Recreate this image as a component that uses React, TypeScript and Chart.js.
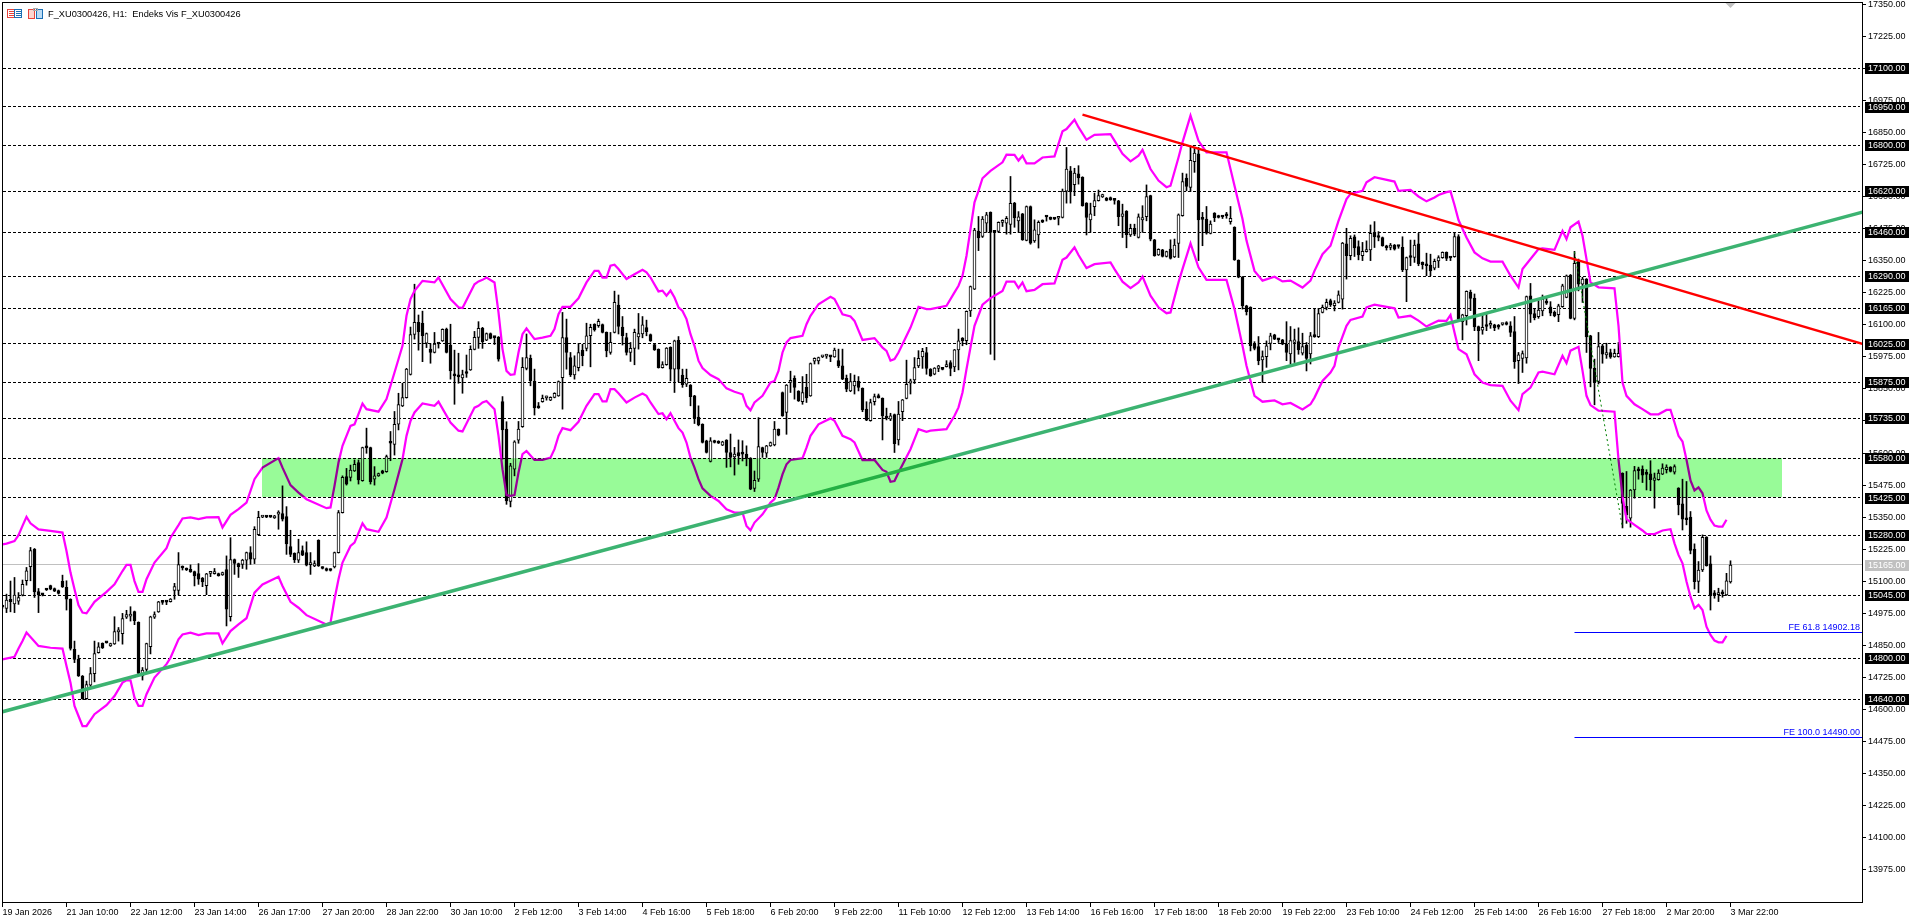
import React, { useEffect, useRef } from "react";
import { Chart, registerables } from "chart.js";

Chart.register(...registerables);

const opens = [
15000,14994,15030,15012,15023,15046,15102,15157,15225,15060,
15051,15069,15083,15072,15064,15100,15077,15030,14835,14796,
14731,14643,14695,14740,14822,14858,14861,14848,14856,14903,
14896,14960,14964,14982,14940,14731,14757,14845,14960,14981,
15020,15020,15021,15064,15064,15156,15150,15147,15138,15130,
15113,15083,15131,15130,15130,15125,15146,14962,15185,15169,
15166,15182,15212,15186,15282,15350,15351,15352,15347,15362,
15364,15352,15235,15209,15182,15220,15212,15165,15160,15260,
15155,15150,15147,15156,15212,15368,15508,15505,15530,15563,
15492,15621,15621,15498,15511,15531,15527,15641,15634,15712,
15784,15816,15906,16062,16109,16106,16028,16005,15992,16026,
16037,16083,16021,15906,15898,15893,15915,15924,16004,16051,
16086,16040,16066,16051,16052,15801,15693,15411,15537,15650,
15703,15930,15969,15879,15777,15800,15815,15806,15817,15823,
15894,16050,15972,15904,15933,16001,16008,16057,16102,16096,
16101,16070,15992,16070,16177,16091,16050,15992,16008,16053,
16064,16089,16062,16023,16004,15933,15944,16012,15927,16039,
15904,15868,15865,15823,15740,15712,15648,15567,15648,15639,
15631,15650,15602,15585,15602,15597,15596,15580,15462,15498,
15621,15599,15628,15632,15692,15836,15758,15875,15891,15841,
15800,15856,15823,15958,15959,15975,15978,15976,15975,15960,
15940,15891,15842,15862,15879,15852,15771,15726,15800,15822,
15813,15737,15732,15750,15651,15761,15813,15872,15885,15940,
15975,15992,15927,15907,15930,15927,15937,15953,15936,16002,
16048,16038,16154,16239,16465,16444,16496,16538,16461,16464,
16499,16496,16491,16574,16505,16532,16429,16561,16427,16450,
16507,16521,16518,16513,16515,16518,16621,16700,16646,16688,
16675,16574,16509,16560,16584,16598,16594,16596,16586,16583,
16522,16542,16450,16476,16440,16509,16521,16603,16431,16372,
16392,16366,16395,16364,16417,16525,16672,16635,16736,16766,
16512,16512,16456,16535,16525,16522,16526,16502,16480,16351,
16286,16174,16168,16024,16015,15963,15976,16027,16061,16042,
16041,16024,15986,16031,16034,15989,16021,15986,16062,16054,
16148,16168,16194,16174,16187,16200,16415,16369,16443,16405,
16369,16385,16392,16460,16446,16440,16408,16401,16411,16406,
16402,16314,16363,16362,16415,16343,16334,16333,16321,16349,
16361,16382,16360,16365,16444,16112,16135,16226,16204,16093,
16079,16094,16098,16100,16099,16101,16102,16096,16073,15960,
15969,15971,16213,16144,16131,16154,16192,16170,16148,16139,
16170,16207,16294,16125,16346,16258,16278,16057,15930,15879,
16018,15982,15992,15975,15976,15521,15392,15346,15456,15532,
15537,15518,15519,15493,15496,15518,15535,15545,15525,15463,
15402,15345,15350,15226,15100,15144,15272,15168,15048,15048,
15052,15047,15098];

const highs = [
15003,15050,15101,15115,15056,15105,15154,15232,15228,15072,
15052,15071,15085,15074,15066,15124,15102,15032,14867,14812,
14733,14711,14764,14867,14861,14860,14863,14859,14962,14920,
14975,14987,15001,14984,14942,14764,14859,14964,14981,15022,
15022,15021,15033,15092,15212,15160,15152,15164,15140,15169,
15115,15131,15134,15150,15132,15136,15199,15270,15187,15171,
15186,15214,15235,15313,15373,15353,15353,15353,15357,15375,
15472,15391,15299,15211,15264,15238,15254,15212,15180,15262,
15157,15152,15149,15214,15376,15511,15540,15553,15573,15573,
15623,15697,15623,15547,15522,15533,15592,15684,15762,15833,
15872,15930,16091,16258,16138,16153,16068,16027,16070,16028,
16084,16087,16102,16001,15989,15923,15982,16018,16074,16112,
16090,16068,16068,16053,16054,15820,15722,15560,15648,15723,
15972,16064,15982,15927,15797,15826,15822,15819,15835,15881,
16148,16122,15992,15979,16027,16024,16106,16102,16104,16122,
16103,16072,16070,16231,16216,16132,16067,16031,16083,16144,
16132,16118,16064,16025,16006,15956,16011,16014,16040,16054,
15927,15927,15867,15825,15784,15714,15650,15660,15650,15648,
15646,15652,15674,15622,15651,15648,15628,15582,15530,15738,
15623,15630,15643,15723,15694,15838,15867,15919,15901,15843,
15898,15907,15951,15971,15974,15978,15985,15978,16009,16005,
16005,15904,15910,15904,15898,15854,15800,15810,15830,15830,
15815,15775,15755,15752,15801,15809,15962,15888,15972,15999,
16008,16012,15929,15933,15942,15929,15960,15960,16004,16083,
16050,16154,16251,16476,16522,16522,16538,16540,16466,16501,
16509,16522,16678,16577,16541,16534,16563,16563,16509,16505,
16509,16523,16520,16514,16520,16629,16791,16717,16710,16720,
16677,16576,16574,16613,16625,16609,16596,16598,16588,16585,
16570,16545,16492,16492,16532,16564,16645,16605,16433,16396,
16394,16387,16431,16434,16532,16691,16688,16794,16791,16791,
16538,16561,16505,16537,16527,16524,16538,16561,16482,16353,
16288,16176,16170,16034,16054,15998,16037,16067,16063,16047,
16043,16112,16093,16083,16088,16067,16031,16070,16161,16164,
16177,16200,16200,16194,16232,16421,16476,16447,16450,16427,
16421,16427,16489,16502,16463,16442,16410,16417,16413,16408,
16443,16364,16430,16430,16456,16345,16379,16375,16356,16369,
16384,16384,16362,16457,16451,16141,16232,16235,16220,16095,
16142,16145,16115,16102,16101,16104,16112,16112,16132,15992,
15998,16212,16261,16161,16194,16216,16206,16190,16154,16180,
16258,16294,16296,16386,16356,16285,16280,16059,15966,16070,
16024,16028,16005,16005,16031,15523,15528,15458,15548,15545,
15550,15535,15570,15522,15535,15558,15554,15547,15554,15465,
15498,15489,15372,15246,15177,15281,15274,15199,15064,15073,
15066,15131,15180];

const lows = [
14995,14978,14981,14978,15010,15043,15085,15102,15037,14978,
15043,15064,15067,15060,15050,15076,14988,14832,14783,14729,
14640,14640,14690,14708,14820,14838,14859,14846,14854,14867,
14855,14955,14945,14931,14739,14715,14744,14817,14955,14979,
15010,15009,15019,15030,15047,15144,15142,15135,15082,15088,
15079,15048,15118,15128,15120,15123,14926,14945,15127,15115,
15150,15147,15166,15169,15280,15348,15348,15349,15345,15303,
15335,15205,15196,15173,15173,15200,15160,15127,15157,15158,
15148,15140,15140,15152,15210,15366,15475,15491,15528,15479,
15490,15599,15479,15475,15509,15519,15525,15570,15592,15690,
15781,15814,15904,16044,16001,15956,16011,15950,15990,16009,
16035,15990,15888,15790,15872,15833,15895,15922,16002,16008,
16008,16038,16045,16023,15958,15576,15400,15390,15511,15638,
15700,15924,15862,15748,15774,15798,15806,15804,15815,15821,
15771,15927,15898,15888,15920,15940,15998,15936,16075,16090,
16068,15975,15985,16068,16064,16021,15982,15957,15944,16005,
16049,16057,16035,16000,15931,15931,15942,15881,15836,15878,
15856,15859,15784,15715,15706,15639,15600,15565,15639,15637,
15629,15544,15546,15514,15556,15569,15550,15457,15450,15489,
15583,15583,15626,15628,15667,15743,15673,15836,15810,15801,
15790,15797,15821,15947,15947,15972,15969,15956,15973,15933,
15886,15839,15839,15830,15842,15761,15726,15724,15787,15814,
15651,15729,15726,15602,15631,15726,15811,15830,15871,15933,
15930,15907,15899,15905,15917,15924,15935,15901,15917,15924,
16018,16022,16132,16237,16389,16440,16460,15985,15963,16460,
16483,16453,16453,16480,16460,16429,16427,16414,16421,16399,
16498,16504,16509,16510,16489,16516,16574,16574,16603,16648,
16562,16450,16460,16525,16582,16596,16583,16585,16570,16486,
16440,16400,16444,16447,16438,16460,16505,16427,16367,16370,
16364,16364,16356,16362,16362,16523,16622,16619,16694,16350,
16408,16453,16454,16502,16516,16514,16515,16492,16351,16283,
16161,16138,15998,16002,15944,15875,15934,16002,16042,16031,
16022,15960,15947,15953,15985,15982,15920,15947,16051,16050,
16146,16158,16171,16154,16185,16161,16278,16353,16366,16353,
16350,16383,16350,16401,16427,16406,16391,16392,16391,16398,
16307,16190,16330,16343,16330,16317,16291,16291,16314,16323,
16359,16350,16350,16363,16120,16041,16099,16155,16077,15960,
16063,16077,16086,16077,16083,16098,16099,16054,15930,15871,
15914,15950,16109,16119,16125,16135,16179,16135,16131,16112,
16168,16205,16123,16119,16232,16187,15992,15858,15788,15869,
15950,15969,15969,15973,15974,15308,15326,15311,15424,15498,
15485,15456,15453,15385,15494,15516,15522,15526,15518,15359,
15300,15320,15207,15070,15056,15138,15159,14988,15034,15021,
15038,15045,15093];

const closes = [
15000,15027,15021,15046,15037,15088,15141,15220,15059,15047,
15047,15066,15069,15062,15053,15078,15030,14838,14796,14731,
14643,14697,14740,14818,14845,14840,14860,14857,14904,14904,
14955,14970,14966,14947,14741,14754,14857,14962,14970,15020,
15018,15019,15031,15079,15165,15152,15144,15137,15121,15108,
15098,15129,15132,15133,15122,15134,14991,15185,15170,15157,
15183,15212,15186,15303,15349,15351,15350,15350,15355,15364,
15342,15246,15205,15183,15212,15202,15163,15173,15169,15160,
15150,15142,15142,15212,15368,15505,15479,15534,15556,15495,
15621,15620,15488,15511,15520,15521,15586,15638,15712,15789,
15816,15927,16062,16109,16073,16057,16066,15992,16025,16025,
16082,15992,15920,15901,15897,15906,15910,16004,16051,16086,
16034,16066,16047,16050,15966,15690,15413,15550,15644,15693,
15934,15972,15882,15776,15776,15813,15819,15817,15833,15878,
16050,15992,15904,15940,15992,15979,16057,16090,16080,16113,
16070,15998,16031,16187,16093,16057,15992,16008,16070,16066,
16100,16073,16037,16002,15933,15945,16009,15927,16037,15927,
15866,15891,15820,15738,15710,15641,15602,15648,15641,15638,
15644,15602,15583,15596,15589,15596,15579,15459,15494,15625,
15602,15628,15641,15693,15670,15745,15865,15883,15856,15803,
15836,15815,15949,15969,15972,15976,15979,15975,16001,15940,
15888,15849,15878,15879,15856,15768,15728,15797,15820,15816,
15745,15736,15745,15636,15752,15807,15868,15881,15933,15969,
15996,15930,15901,15931,15940,15926,15945,15930,16002,16037,
16038,16152,16249,16469,16438,16512,16528,16460,16460,16499,
16500,16515,16573,16516,16521,16431,16561,16418,16470,16499,
16500,16520,16511,16512,16518,16621,16707,16619,16691,16672,
16564,16518,16532,16584,16603,16607,16585,16587,16585,16521,
16532,16451,16476,16453,16521,16518,16600,16434,16369,16394,
16366,16385,16359,16411,16528,16658,16639,16741,16769,16509,
16511,16457,16492,16517,16518,16520,16525,16515,16353,16285,
16174,16151,16018,16008,15960,15976,16018,16057,16044,16041,
16024,15992,16038,16041,16002,16015,15969,16057,16053,16144,
16168,16187,16177,16184,16217,16418,16369,16437,16399,16372,
16386,16392,16456,16442,16440,16408,16400,16411,16395,16405,
16314,16362,16362,16411,16337,16334,16330,16310,16347,16362,
16382,16359,16360,16444,16122,16139,16230,16203,16092,16077,
16090,16093,16099,16088,16091,16102,16101,16070,15956,15983,
15988,16210,16141,16128,16157,16200,16184,16145,16135,16174,
16252,16291,16125,16339,16258,16278,16053,15930,15875,16015,
15985,15992,15974,15989,15989,15404,15359,15456,15532,15531,
15514,15517,15496,15503,15522,15541,15545,15528,15547,15398,
15342,15340,15220,15099,15144,15271,15161,15043,15047,15056,
15051,15102,15163];

const upperIdx = [0,1,3,4,5,6,7,9,12,15,16,17,18,19,20,21,23,26,28,30,31,32,33,34,35,36,38,41,42,44,45,47,49,51,54,55,57,59,61,63,65,69,70,72,74,76,81,82,83,84,85,87,88,90,91,94,96,98,100,101,102,103,105,108,109,112,114,115,118,119,
120,121,123,124,125,126,127,128,129,130,131,133,135,137,138,139,140,142,144,146,148,149,150,151,152,153,154,156,158,160,161,162,164,165,166,167,168,169,170,171,172,173,174,175,177,179,181,183,185,186,187,188,190,192,193,194,195,196,197,200,201,202,204,207,208,210,212,213,215,218,220,221,222,223,224,227,229,231,232,236,238,239,
240,241,242,243,244,245,247,250,251,253,254,255,256,258,260,263,265,266,268,269,271,273,277,278,280,282,284,285,287,289,291,292,294,295,297,299,301,306,308,310,311,313,315,318,320,322,325,327,328,330,332,334,336,337,340,341,343,348,349,352,354,356,358,359,
361,362,363,364,366,368,370,372,375,377,379,380,382,384,385,388,390,391,392,394,395,396,397,399,403,404,405,406,408,410,412,414,416,417,418,419,420,421,422,423,424,425,426,427,428,429,430,431];
const upperBand = [15244,15247,15257,15280,15316,15351,15326,15302,15297,15290,15218,15134,15069,15007,14978,14975,15020,15059,15088,15140,15164,15164,15101,15059,15059,15108,15173,15229,15270,15319,15345,15349,15342,15349,15350,15310,15359,15381,15407,15498,15543,15580,15543,15475,15446,15420,15385,15388,15472,15563,15628,15706,15712,15793,15771,15761,15810,15914,16018,16135,16200,16232,16271,16265,16284,16200,16168,16165,16258,16269,
16275,16284,16265,16148,16005,15920,15905,15907,15992,16063,16086,16044,16050,16057,16083,16141,16170,16170,16203,16265,16310,16310,16284,16284,16330,16334,16317,16278,16297,16314,16304,16284,16230,16233,16213,16233,16206,16168,16154,16122,16063,16018,15960,15931,15904,15888,15852,15839,15829,15784,15767,15797,15823,15875,15881,15920,15992,16031,16048,16057,16102,16135,16180,16209,16200,16141,16132,16115,16041,16048,16011,15998,15960,15966,15992,16089,16170,16161,16161,16174,16226,16252,
16291,16369,16473,16577,16622,16671,16700,16733,16763,16762,16740,16759,16729,16729,16752,16756,16854,16863,16899,16870,16821,16840,16843,16818,16766,16737,16759,16782,16707,16662,16636,16642,16752,16811,16915,16817,16772,16772,16642,16512,16428,16310,16272,16287,16269,16272,16245,16272,16310,16375,16408,16505,16590,16610,16622,16655,16675,16658,16622,16626,16600,16581,16596,16606,
16617,16620,16567,16508,16440,16382,16359,16346,16346,16291,16245,16317,16356,16395,16398,16392,16466,16434,16480,16502,16447,16356,16265,16246,16242,16096,15875,15823,15790,15771,15751,15751,15768,15768,15719,15667,15645,15574,15493,15454,15466,15443,15376,15340,15317,15313,15313,15340];

const lowerIdx = [0,3,4,5,6,9,12,15,16,17,18,19,20,21,23,26,28,30,31,32,33,34,35,36,38,41,42,44,45,47,49,51,54,55,57,59,61,63,65,69,70,72,74,76,81,82,83,84,85,87,88,90,91,94,96,98,100,101,102,103,105,108,109,112,114,115,118,119,
120,121,123,124,125,126,127,128,129,130,131,133,135,137,138,139,140,142,144,146,148,149,150,151,152,153,154,156,158,160,161,162,164,165,166,167,168,169,170,171,172,173,174,175,177,179,181,183,185,186,187,188,190,192,193,194,195,196,197,200,201,202,204,207,208,210,212,213,215,218,220,221,222,223,224,227,229,231,232,236,238,239,
240,241,242,243,245,247,250,251,253,254,255,256,258,260,263,265,266,268,269,271,273,277,278,280,282,284,285,287,289,291,292,294,295,297,299,301,306,308,310,311,313,315,318,320,322,325,327,328,330,332,333,334,336,337,340,341,343,348,349,352,354,356,358,359,
361,362,363,364,366,368,370,372,375,377,379,380,382,384,385,388,390,391,392,394,395,396,397,399,403,404,405,406,408,410,411,413,415,417,418,419,420,421,422,423,424,425,426,427,428,429,430,431];
const lowerBand = [14796,14806,14838,14867,14900,14848,14841,14838,14770,14705,14614,14575,14536,14536,14582,14617,14653,14705,14714,14714,14647,14614,14614,14660,14725,14777,14802,14874,14893,14900,14890,14897,14897,14858,14906,14932,14956,15056,15088,15118,15082,15020,14997,14968,14932,14939,15030,15108,15173,15238,15251,15326,15303,15293,15348,15459,15576,15667,15725,15758,15793,15784,15800,15719,15687,15684,15777,15784,
15797,15803,15771,15667,15537,15436,15433,15436,15524,15596,15608,15573,15573,15582,15615,15667,15697,15689,15722,15784,15830,15830,15801,15801,15849,15849,15833,15797,15816,15832,15823,15797,15752,15755,15732,15755,15726,15697,15680,15641,15582,15543,15498,15462,15433,15413,15381,15368,15368,15316,15299,15329,15361,15407,15420,15465,15517,15556,15573,15580,15621,15667,15712,15735,15726,15667,15654,15641,15572,15573,15534,15527,15488,15491,15524,15615,15693,15683,15687,15693,15745,15778,
15836,15927,16012,16096,16178,16204,16232,16268,16268,16243,16265,16231,16236,16258,16261,16353,16362,16402,16372,16321,16336,16343,16317,16268,16243,16265,16288,16213,16168,16145,16148,16265,16317,16417,16324,16275,16275,16161,16018,15940,15823,15800,15805,15790,15795,15770,15790,15816,15881,15914,15940,16012,16096,16119,16132,16168,16178,16164,16128,16135,16116,16093,16109,16116,
16115,16138,16070,16005,15985,15907,15875,15865,15862,15804,15767,15830,15855,15914,15917,15907,15979,15950,15999,16014,15921,15823,15787,15765,15761,15574,15431,15342,15320,15298,15285,15284,15298,15303,15248,15203,15170,15099,15040,14995,15008,14988,14923,14891,14869,14862,14862,14887];

const levels = [17100,16950,16800,16620,16460,16290,16165,16025,15875,15735,15580,15425,15280,15045,14800,14640];
const lastPrice = 15165;
const yTicks = [17350,17225,17100,16975,16850,16725,16600,16475,16350,16225,16100,15975,15850,15725,15600,15475,15350,15225,15100,14975,14850,14725,14600,14475,14350,14225,14100,13975];
const xTickLabels = ["19 Jan 2026","21 Jan 10:00","22 Jan 12:00","23 Jan 14:00","26 Jan 17:00","27 Jan 20:00","28 Jan 22:00","30 Jan 10:00","2 Feb 12:00","3 Feb 14:00","4 Feb 16:00","5 Feb 18:00","6 Feb 20:00","9 Feb 22:00","11 Feb 10:00","12 Feb 12:00","13 Feb 14:00","16 Feb 16:00","17 Feb 18:00","18 Feb 20:00","19 Feb 22:00","23 Feb 10:00","24 Feb 12:00","25 Feb 14:00","26 Feb 16:00","27 Feb 18:00","2 Mar 20:00","3 Mar 22:00"];
const barsPerTick = 16;

const greenTrend = { idx: [-1, 465], price: [14587, 16539] };
const redTrend = { idx: [270, 465], price: [16919, 16025] };
const dottedTrend = { idx: [393, 405], price: [16384, 15308] };
const zone = { from: 64.875, to: 444.875, top: 15580, bottom: 15429 };
const feLevels = [
  { price: 14902.18, text: "FE 61.8 14902.18", fromIdx: 393 },
  { price: 14490.0, text: "FE 100.0 14490.00", fromIdx: 393 },
];
const titleText = "F_XU0300426, H1:  Endeks Vis F_XU0300426";

const FONT = '9px "Liberation Sans"';
const pairs = (xs: number[], ys: number[]) => xs.map((x, i) => ({ x, y: ys[i] }));

const overlay = {
  id: "overlay",
  beforeDatasetsDraw(chart: any) {
    const { ctx, chartArea: a, scales: { y } } = chart;
    ctx.save();
    ctx.lineWidth = 1;
    ctx.strokeStyle = "#c0c0c0";
    const gy = Math.floor(y.getPixelForValue(lastPrice)) + 0.5;
    ctx.beginPath(); ctx.moveTo(a.left, gy); ctx.lineTo(a.right, gy); ctx.stroke();
    ctx.strokeStyle = "#000";
    ctx.setLineDash([3, 2]);
    levels.forEach((l) => {
      const p = Math.floor(y.getPixelForValue(l)) + 0.5;
      ctx.beginPath(); ctx.moveTo(a.left + 1, p); ctx.lineTo(a.right - 2, p); ctx.stroke();
    });
    ctx.restore();
  },
  afterDatasetsDraw(chart: any) {
    const { ctx, chartArea: a, scales: { x, y } } = chart;
    ctx.save();
    // zone blends with what lies under it
    ctx.globalCompositeOperation = "multiply";
    ctx.fillStyle = "#98fb98";
    const zl = x.getPixelForValue(zone.from), zr = x.getPixelForValue(zone.to);
    const zt = y.getPixelForValue(zone.top), zb = y.getPixelForValue(zone.bottom);
    ctx.fillRect(zl, zt, zr - zl, zb - zt);
    ctx.globalCompositeOperation = "source-over";
    // Fibonacci expansion levels
    ctx.strokeStyle = "#0000ff";
    ctx.fillStyle = "#0000ff";
    ctx.lineWidth = 1;
    ctx.font = FONT;
    ctx.textAlign = "right";
    ctx.textBaseline = "alphabetic";
    feLevels.forEach((f) => {
      const p = Math.floor(y.getPixelForValue(f.price)) + 0.5;
      ctx.beginPath(); ctx.moveTo(x.getPixelForValue(f.fromIdx), p); ctx.lineTo(a.right, p); ctx.stroke();
      ctx.fillText(f.text, a.right - 2, p - 3);
    });
    ctx.restore();
  },
  afterDraw(chart: any) {
    const { ctx, chartArea: a, scales: { x, y } } = chart;
    ctx.save();
    ctx.strokeStyle = "#000";
    ctx.lineWidth = 1;
    ctx.strokeRect(a.left + 0.5, a.top + 0.5, a.right - a.left, a.bottom - a.top);
    ctx.font = FONT;
    ctx.textAlign = "left";
    ctx.textBaseline = "middle";
    const tag = (v: number, bg: string) => {
      const p = Math.round(y.getPixelForValue(v));
      ctx.fillStyle = bg;
      ctx.fillRect(a.right + 3, p - 5, 44, 11);
      ctx.fillStyle = "#fff";
      ctx.fillText(v.toFixed(2), a.right + 6, p + 0.5);
    };
    levels.forEach((l) => tag(l, "#000"));
    tag(lastPrice, "#c0c0c0");
    // title
    ctx.fillStyle = "#000";
    ctx.font = '9.25px "Liberation Sans"';
    ctx.fillText(titleText, 48, 14);
    // chart-window icons
    ctx.lineWidth = 1;
    ctx.strokeStyle = "#e8433a";
    ctx.strokeRect(7.5, 9.5, 7, 8);
    ctx.beginPath();
    [11.5, 13.5, 15.5].forEach((v) => { ctx.moveTo(9, v); ctx.lineTo(14, v); });
    ctx.stroke();
    ctx.strokeStyle = "#1a6fb5";
    ctx.strokeRect(14.5, 9.5, 7, 8);
    ctx.beginPath();
    [11.5, 13.5, 15.5].forEach((v) => { ctx.moveTo(16, v); ctx.lineTo(21, v); });
    ctx.stroke();
    ctx.fillStyle = "#fcd5cf";
    ctx.fillRect(29, 10, 5, 8);
    ctx.strokeStyle = "#e8433a";
    ctx.strokeRect(28.5, 9.5, 6, 9);
    ctx.fillStyle = "#bcdcf5";
    ctx.fillRect(37, 10, 5, 8);
    ctx.strokeStyle = "#1a6fb5";
    ctx.strokeRect(36.5, 9.5, 6, 9);
    ctx.strokeStyle = "#aaa";
    ctx.strokeRect(33.5, 8.5, 4, 2);
    // shift marker
    const m = x.getPixelForValue(opens.length - 1);
    ctx.fillStyle = "#c0c0c0";
    ctx.beginPath(); ctx.moveTo(m - 5, a.top + 1); ctx.lineTo(m + 5, a.top + 1); ctx.lineTo(m, a.top + 6); ctx.closePath(); ctx.fill();
    ctx.restore();
  },
};

export default function App() {
  const ref = useRef<HTMLCanvasElement>(null);
  useEffect(() => {
    document.body.style.margin = "0";
    const lineBase = { type: "line", pointRadius: 0, tension: 0, fill: false };
    const chart = new Chart(ref.current as HTMLCanvasElement, {
      type: "bar",
      data: {
        datasets: [
          {
            order: 6, grouped: false, barThickness: 1, maxBarThickness: 1, backgroundColor: "#000", borderWidth: 0,
            data: lows.map((l, i) => ({ x: i, y: [l, highs[i]] })),
          },
          {
            order: 5, grouped: false, barThickness: 3, maxBarThickness: 3, minBarLength: 2, borderColor: "#000", borderWidth: 1, borderSkipped: false,
            backgroundColor: opens.map((o, i) => (closes[i] > o ? "#fff" : "#000")),
            data: opens.map((o, i) => ({ x: i, y: [Math.min(o, closes[i]), Math.max(o, closes[i])] })),
          },
          { ...lineBase, order: 4, borderColor: "#ff00ff", borderWidth: 2.25, data: pairs(upperIdx, upperBand) },
          { ...lineBase, order: 4, borderColor: "#ff00ff", borderWidth: 2.25, data: pairs(lowerIdx, lowerBand) },
          { ...lineBase, order: 3, borderColor: "#008000", borderWidth: 1, borderDash: [2, 3], data: pairs(dottedTrend.idx, dottedTrend.price) },
          { ...lineBase, order: 2, borderColor: "#3cb371", borderWidth: 3.6, data: pairs(greenTrend.idx, greenTrend.price) },
          { ...lineBase, order: 1, borderColor: "#ff0000", borderWidth: 2.4, data: pairs(redTrend.idx, redTrend.price) },
        ] as any,
      },
      options: {
        animation: false,
        responsive: false,
        devicePixelRatio: 1,
        layout: { padding: { left: 2, top: 2, right: 0, bottom: 0 } },
        plugins: { legend: { display: false }, tooltip: { enabled: false }, title: { display: false } },
        scales: {
          x: {
            type: "linear", min: -0.125, max: 464.875, offset: false,
            afterBuildTicks: (s: any) => { s.ticks = xTickLabels.map((_, i) => ({ value: i * barsPerTick })); },
            afterFit: (s: any) => { s.height = 21; s.paddingLeft = 0; s.paddingRight = 0; },
            grid: { drawOnChartArea: false, tickLength: 5, tickColor: "#000", tickWidth: 1, offset: false },
            border: { display: false },
            ticks: {
              autoSkip: false, maxRotation: 0, minRotation: 0, align: "start", padding: 0,
              color: "#000", font: { family: "Liberation Sans", size: 9 },
              callback: (_v: any, i: number) => xTickLabels[i],
            },
          },
          y: {
            type: "linear", position: "right", min: 13850, max: 17358,
            afterBuildTicks: (s: any) => { s.ticks = yTicks.map((v) => ({ value: v })); },
            afterFit: (s: any) => { s.width = 58; s.paddingTop = 0; s.paddingBottom = 0; },
            grid: { drawOnChartArea: false, tickLength: 4, tickColor: "#000", tickWidth: 1 },
            border: { display: false },
            ticks: {
              autoSkip: false, padding: 2, color: "#000", font: { family: "Liberation Sans", size: 9 },
              callback: (v: any) => Number(v).toFixed(2),
            },
          },
        },
      } as any,
      plugins: [overlay],
    } as any);
    return () => chart.destroy();
  }, []);
  return <canvas ref={ref} width={1920} height={923} style={{ display: "block", width: 1920, height: 923 }} />;
}
